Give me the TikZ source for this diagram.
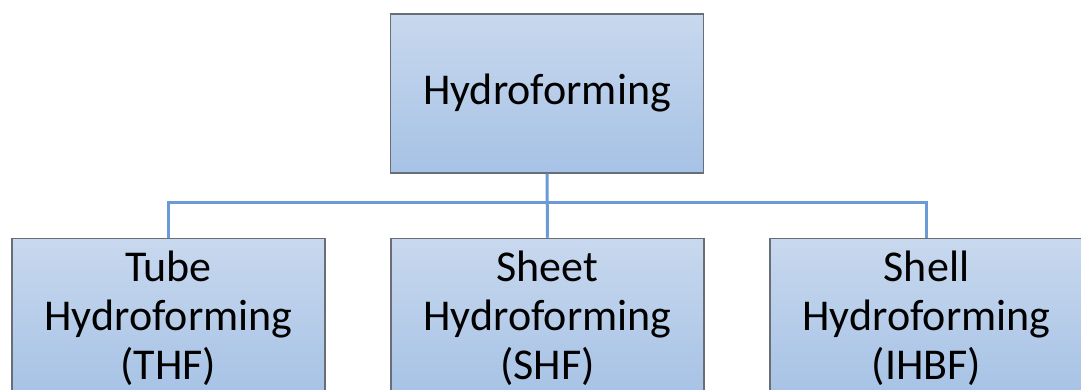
\documentclass[tikz,border=0pt]{standalone}
\usepackage{fontspec}
\setmainfont{Carlito}
\usepackage{xcolor}
\usetikzlibrary{positioning}

\definecolor{boxtop}{RGB}{200,216,238}
\definecolor{boxbot}{RGB}{166,194,229}
\definecolor{boxline}{RGB}{105,110,118}
\definecolor{linkblue}{RGB}{106,155,214}

\tikzset{
  procbox/.style={draw=boxline, line width=1.5pt, top color=boxtop, bottom color=boxbot,
    minimum width=313pt, minimum height=159pt, align=center, inner sep=0pt,
    font=\fontsize{44}{49}\selectfont},
  link/.style={draw=linkblue, line width=3pt}
}

\begin{document}
\begin{tikzpicture}[x=1pt, y=-1pt]
        \useasboundingbox (0,0) rectangle (1081,390);
        \clip (0,0) rectangle (1081,390);
        % top level
        \node[procbox] (hf) at (547,93.5) {Hydroforming};
        % three kinds
        \node[procbox] (thf) at (168.5,318) {Tube\\Hydroforming\\(THF)};
        \node[procbox] (shf) at (547.5,318) {Sheet\\Hydroforming\\(SHF)};
        \node[procbox] (ihbf) at (926.5,318) {Shell\\Hydroforming\\(IHBF)};
        \coordinate (bus) at (547.5,203);
        \draw[link] (hf.south) -- (shf.north);
        \draw[link] (thf.north) |- (bus) -| (ihbf.north);
    \end{tikzpicture}
\end{document}
